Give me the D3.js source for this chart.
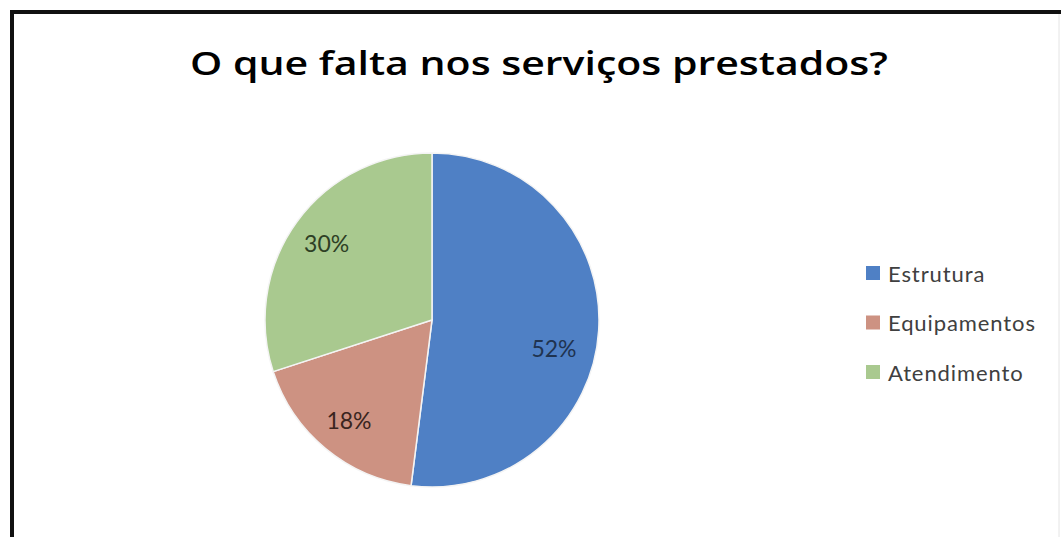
<!DOCTYPE html>
<html>
<head>
<meta charset="utf-8">
<script src="https://cdn.jsdelivr.net/npm/d3@7"></script>
<style>
  body { margin: 0; background: #fff; }
  svg { display: block; }
</style>
</head>
<body>
<div id="chart"></div>
<script>
const WIDTH = 1061;
const HEIGHT = 537;

// data
const categories = ["Estrutura", "Equipamentos", "Atendimento"];
const values = [52, 18, 30];
const colors = ["#4f80c5", "#cd9282", "#a9c98f"];
const labelColors = ["#1f3350", "#3a2520", "#2e3f25"];

const cx = 432, cy = 320, RADIUS = 167;

const svg = d3.select("#chart")
    .append("svg")
        .attr("width", WIDTH)
        .attr("height", HEIGHT);

// frame
svg.append("line")
    .attr("x1", 12).attr("y1", 12).attr("x2", WIDTH).attr("y2", 12)
    .attr("stroke", "#111").attr("stroke-width", 4);
svg.append("line")
    .attr("x1", 12).attr("y1", 10).attr("x2", 12).attr("y2", HEIGHT)
    .attr("stroke", "#111").attr("stroke-width", 4);
svg.append("line")
    .attr("x1", 1059).attr("y1", 14).attr("x2", 1059).attr("y2", HEIGHT)
    .attr("stroke", "#e4e4e4").attr("stroke-width", 1);

svg.append("text")
    .attr("x", 539)
    .attr("y", 75)
    .attr("text-anchor", "middle")
    .attr("textLength", 698)
    .attr("lengthAdjust", "spacingAndGlyphs")
    .style("font-family", "'Open Sans', sans-serif")
    .style("font-weight", 600)
    .style("font-size", "33px")
    .style("fill", "#000")
    .text("O que falta nos serviços prestados?");

const pie = d3.pie().sort(null).value(d => d.value);
const data = pie(categories.map((c, i) => ({ key: c, value: values[i], i })));

const arc = d3.arc().innerRadius(0).outerRadius(RADIUS);
const labelArc = d3.arc().innerRadius(RADIUS * 0.78).outerRadius(RADIUS * 0.78);

const g = svg.append("g")
    .attr("transform", `translate(${cx}, ${cy})`);

g.selectAll("path")
    .data(data)
    .enter()
    .append("path")
    .attr("d", arc)
    .attr("fill", d => colors[d.data.i])
    .attr("stroke", "#f4f4f4")
    .style("stroke-width", "1.5px");

g.selectAll("text")
    .data(data)
    .enter()
    .append("text")
    .attr("transform", d => {
        const [x, y] = labelArc.centroid(d);
        // the big slice's label sits a bit lower in the reference
        return `translate(${x - (d.data.i === 0 ? 8 : 0)}, ${y + (d.data.i === 0 ? 20 : 0)})`;
    })
    .attr("text-anchor", "middle")
    .attr("dominant-baseline", "central")
    .style("font-family", "Lato, sans-serif")
    .style("font-size", "23px")
    .style("fill", d => labelColors[d.data.i])
    .text(d => d.data.value + "%");

// legend
const legendY = d3.scalePoint().domain(categories).range([273, 372]);

const legend = svg.append("g");
legend.selectAll("rect")
    .data(categories)
    .enter()
    .append("rect")
    .attr("x", 866)
    .attr("y", d => legendY(d) - 7)
    .attr("width", 14)
    .attr("height", 14)
    .attr("fill", (d, i) => colors[i]);

legend.selectAll("text")
    .data(categories)
    .enter()
    .append("text")
    .attr("x", 888)
    .attr("y", d => legendY(d))
    .attr("dominant-baseline", "central")
    .style("font-family", "Lato, sans-serif")
    .style("font-size", "22px")
    .style("letter-spacing", "0.9px")
    .style("fill", "#404040")
    .text(d => d);
</script>
</body>
</html>
